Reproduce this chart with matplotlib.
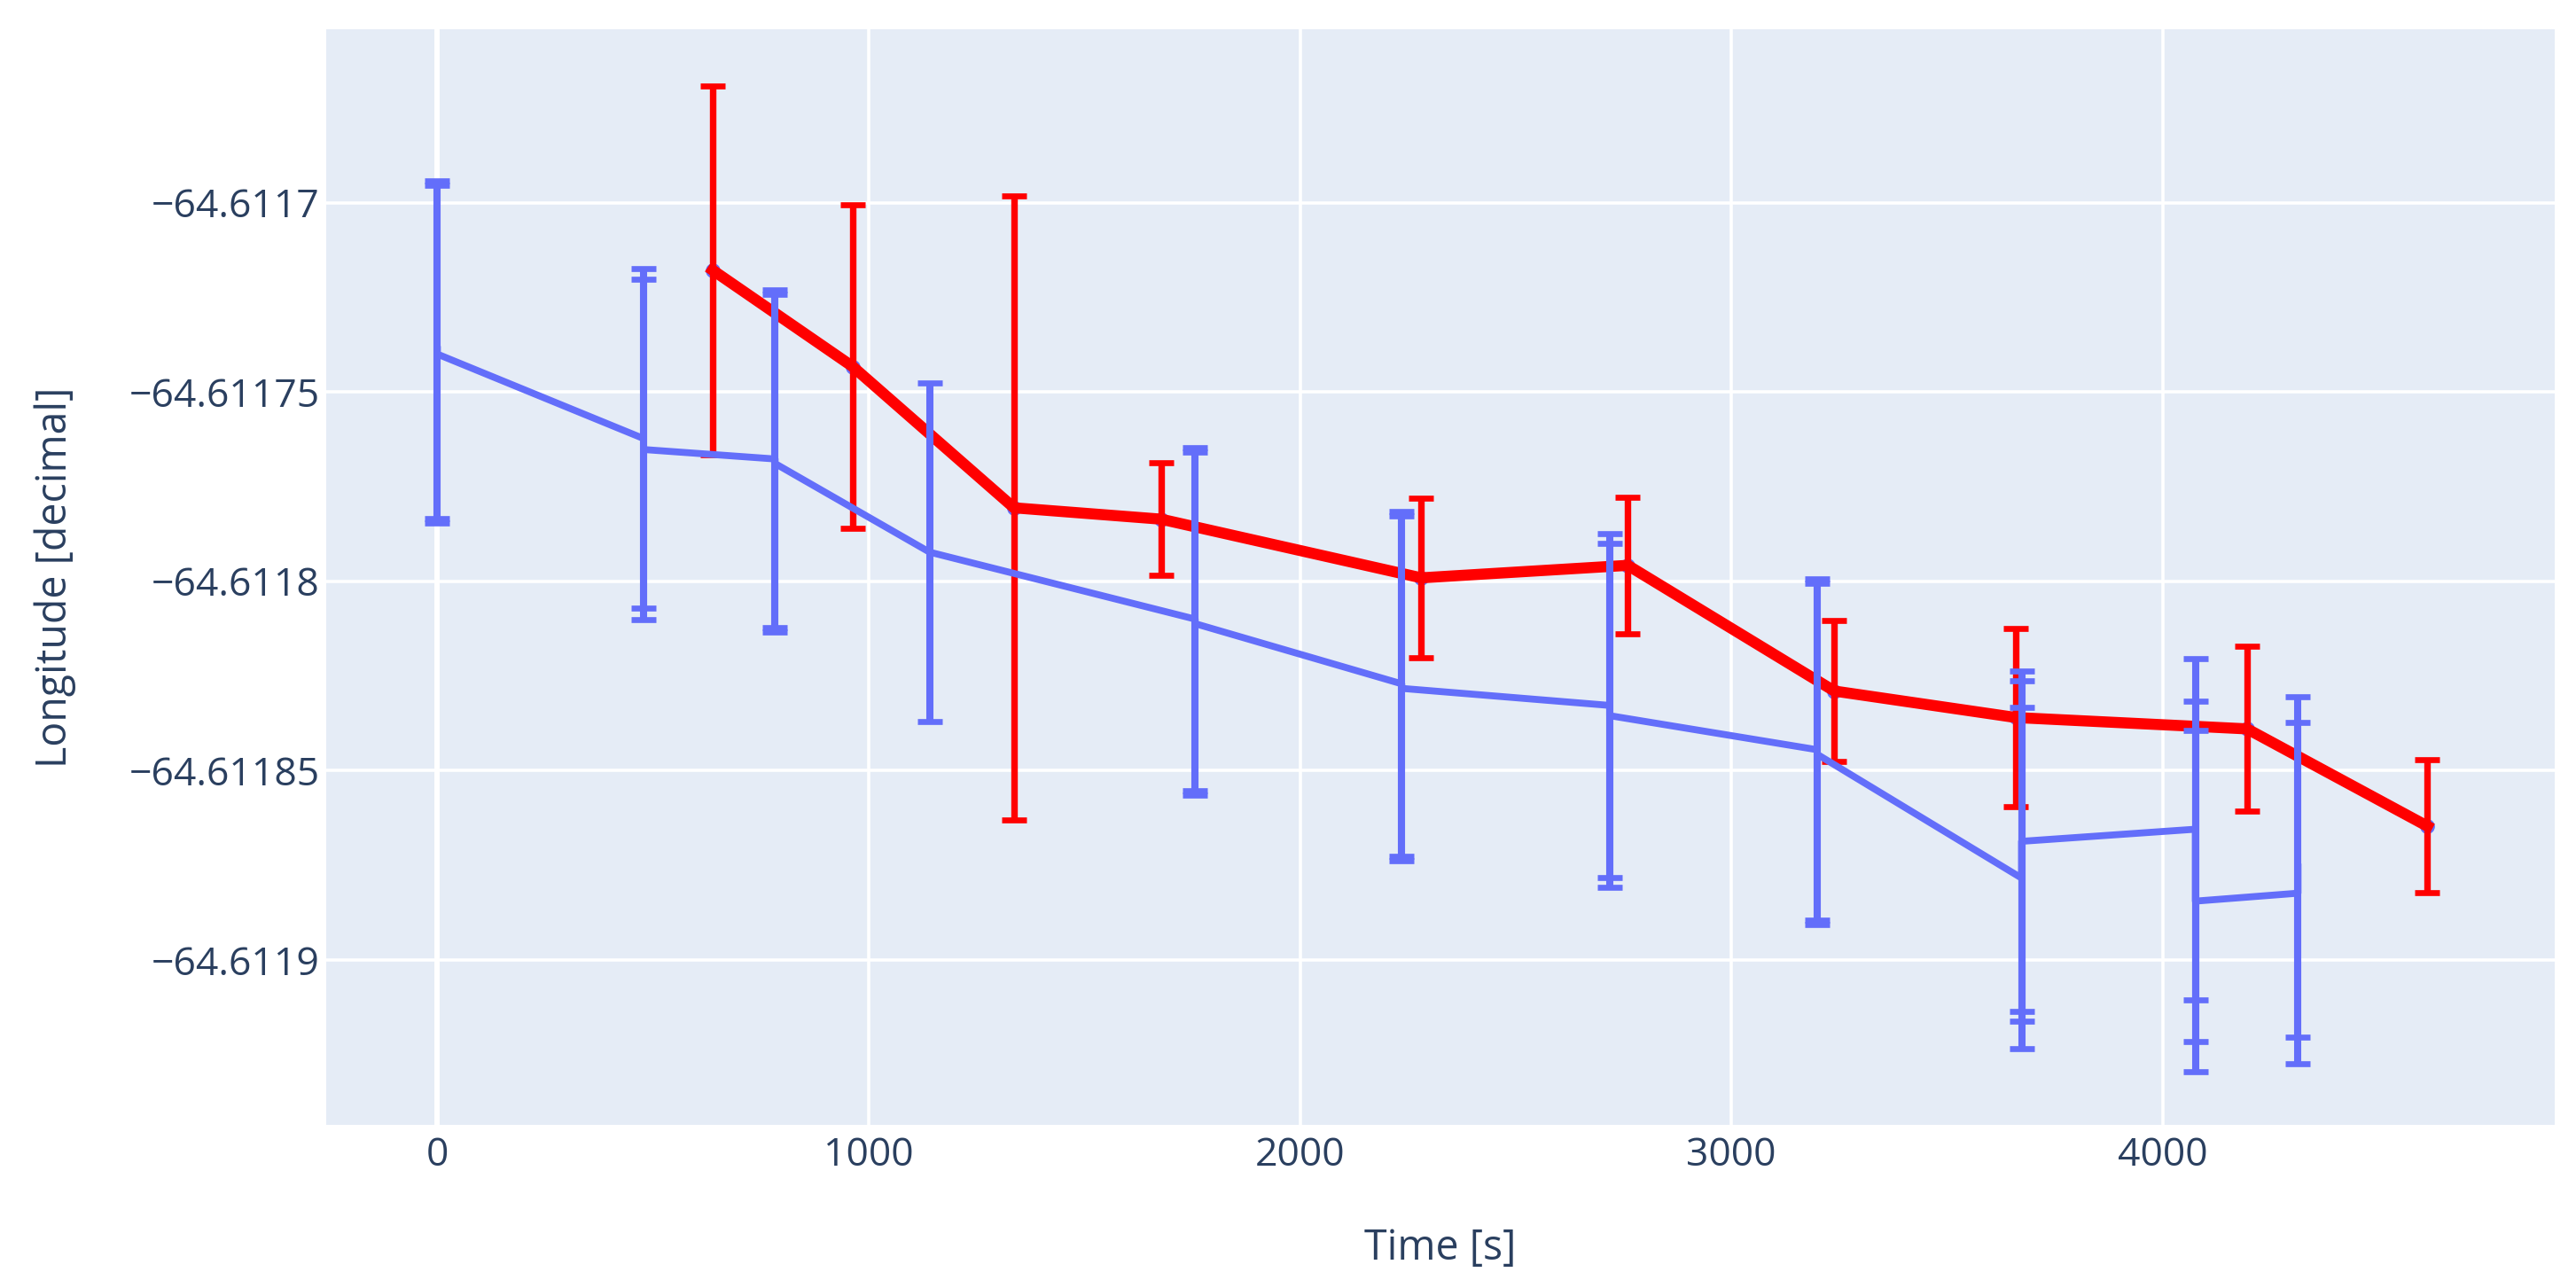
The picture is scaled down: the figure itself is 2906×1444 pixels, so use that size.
import matplotlib.pyplot as plt

# blue track (some times hold several fixes)
blue_time = [0, 0, 478, 478, 783, 783, 1141, 1757, 1757, 2236, 2236, 2718, 2718,
             3199, 3199, 3673, 3673, 3673, 4076, 4076, 4076, 4314, 4314]
blue_lon = [-64.6117388, -64.6117400, -64.6117623, -64.6117652, -64.6117677, -64.6117689,
            -64.6117923, -64.6118100, -64.6118112, -64.6118271, -64.6118283, -64.6118328,
            -64.6118355, -64.6118445, -64.6118457, -64.6118784, -64.6118713, -64.6118687,
            -64.6118655, -64.6118766, -64.6118845, -64.6118824, -64.6118755]
blue_err = [0.0000446, 0.0000446, 0.0000449, 0.0000449, 0.0000446, 0.0000446, 0.0000447,
            0.0000453, 0.0000453, 0.0000455, 0.0000455, 0.0000454, 0.0000454, 0.0000451,
            0.0000451, 0.0000450, 0.0000450, 0.0000450, 0.0000450, 0.0000450, 0.0000450,
            0.0000450, 0.0000450]

# red track
red_time = [638, 963, 1337, 1678, 2281, 2760, 3239, 3660, 4196, 4614]
red_lon = [-64.6117178, -64.6117433, -64.6117806, -64.6117836, -64.6117991, -64.6117958,
           -64.6118290, -64.6118360, -64.6118390, -64.6118647]
red_err = [0.0000487, 0.0000428, 0.0000824, 0.0000149, 0.0000211, 0.0000180, 0.0000187,
           0.0000235, 0.0000218, 0.0000176]

x_ticks = [0, 1000, 2000, 3000, 4000]
x_tick_labels = ["0", "1000", "2000", "3000", "4000"]
y_ticks = [-64.6117, -64.61175, -64.6118, -64.61185, -64.6119]
y_tick_labels = ["\u221264.6117", "\u221264.61175", "\u221264.6118", "\u221264.61185", "\u221264.6119"]

BLUE = "#636EFA"
RED = "#FF0000"
TEXT = "#2A3F5F"

plt.rcParams["font.family"] = ["Open Sans", "DejaVu Sans"]

fig = plt.figure(figsize=(29.06, 14.44), dpi=100)
ax = fig.add_axes([0.1266, 0.1212, 0.8651, 0.8559])
ax.set_facecolor("#E5ECF6")
for s in ax.spines.values():
    s.set_visible(False)

ax.set_xlim(-258, 4909)
ax.set_ylim(-64.6119436, -64.6116542)

ax.set_xticks(x_ticks, x_tick_labels)
ax.set_yticks(y_ticks, y_tick_labels)
ax.tick_params(length=0, labelsize=32, labelcolor=TEXT)
ax.tick_params(axis="x", pad=9)
ax.tick_params(axis="y", pad=5)
ax.grid(True, color="white", linewidth=2.6)
ax.set_axisbelow(True)
ax.axvline(0, color="white", linewidth=4.3, zorder=0.6)

# red trace: markers mostly hidden under the thick line
ax.plot(red_time, red_lon, "o", color=BLUE, markersize=11, zorder=2)
ax.errorbar(red_time, red_lon, yerr=red_err, color=RED, linewidth=9,
            elinewidth=5.3, capsize=10, capthick=4.8, zorder=3)

ax.errorbar(blue_time, blue_lon, yerr=blue_err, color=BLUE, linewidth=5.6,
            elinewidth=5.8, capsize=10, capthick=4.8, zorder=4)

ax.set_xlabel("Time [s]", fontsize=33.5, color=TEXT, va="center")
ax.xaxis.set_label_coords(0.5, -0.1125)
ax.set_ylabel("Longitude [decimal]", fontsize=33.5, color=TEXT, va="center")
ax.yaxis.set_label_coords(-0.1217, 0.5)

fig.savefig("out.png", dpi=100, facecolor="white")
